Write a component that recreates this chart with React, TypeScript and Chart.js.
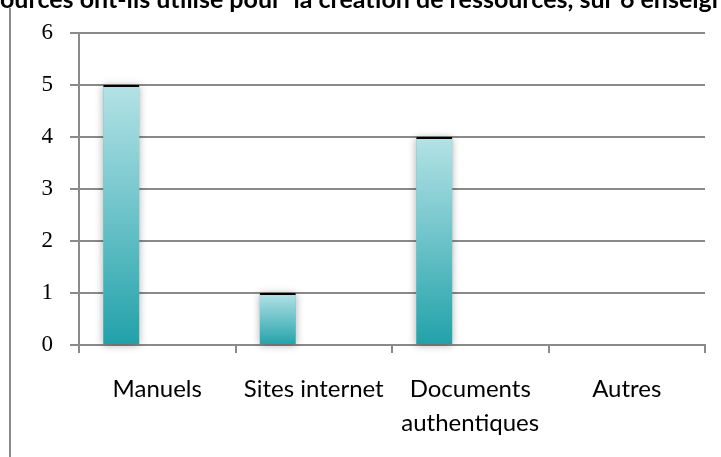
import React, { useEffect, useRef } from 'react';
import { Chart, registerables } from 'chart.js';
Chart.register(...registerables);

const categories: (string | string[])[] = ['Manuels', 'Sites internet', ['Documents', 'authentiques'], 'Autres'];
const values = [5, 1, 4, 0];
const emptySeriesA = [null, null, null, null];
const emptySeriesB = [null, null, null, null];
const yMin = 0;
const yMax = 6;
const titleText = 'Quelles sources ont-ils utilisé pour  la création de ressources, sur 6 enseignants';
const titleHiddenPrefix = 'Quelles s';

const GRID = '#8a8a8a';

const gradientFill = (ctx: any) => {
  const chart = ctx.chart;
  const { chartArea, scales } = chart;
  if (!chartArea || ctx.type !== 'data') return '#3aaab2';
  const v = ctx.raw ?? 0;
  const top = scales.y.getPixelForValue(v);
  const bottom = scales.y.getPixelForValue(0);
  if (bottom - top < 1) return '#3aaab2';
  const g = chart.ctx.createLinearGradient(0, top, 0, bottom);
  g.addColorStop(0, '#b4e2e6');
  g.addColorStop(0.5, '#6cc3c9');
  g.addColorStop(1, '#22a1a9');
  return g;
};

const framePlugin = {
  id: 'frame',
  beforeDatasetsDraw(chart: any) {
    const c = chart.ctx;
    const meta = chart.getDatasetMeta(0);
    c.save();
    c.shadowColor = 'rgba(0,0,0,0.32)';
    c.shadowBlur = 8;
    c.shadowOffsetX = 0;
    c.shadowOffsetY = 1;
    c.fillStyle = '#6cc3c9';
    meta.data.forEach((el: any, i: number) => {
      if (!(values[i] > 0)) return;
      const p = el.getProps(['x', 'y', 'base', 'width'], true);
      c.fillRect(p.x - p.width / 2, p.y, p.width, p.base - p.y);
    });
    c.restore();
  },
  afterDraw(chart: any) {
    const c = chart.ctx;
    c.save();
    c.strokeStyle = '#8a8a8a';
    c.lineWidth = 2;
    c.beginPath();
    c.moveTo(10, 8);
    c.lineTo(10, chart.height);
    c.stroke();
    c.font = 'bold 25px Lato';
    c.fillStyle = '#000';
    c.textBaseline = 'alphabetic';
    c.textAlign = 'left';
    const off = c.measureText(titleHiddenPrefix).width;
    c.fillText(titleText, -off, 8);
    c.restore();
  },
};

export default function App() {
  const ref = useRef<HTMLCanvasElement>(null);
  useEffect(() => {
    if (!ref.current) return;
    const chart = new Chart(ref.current, {
      type: 'bar',
      data: {
        labels: categories,
        datasets: [
          {
            data: values,
            backgroundColor: gradientFill,
            borderColor: '#000',
            borderWidth: (ctx: any) => (ctx.raw > 0 ? { top: 2, left: 0, right: 0, bottom: 0 } : 0),
            borderSkipped: false,
          },
          { data: emptySeriesA, backgroundColor: '#3aaab2' },
          { data: emptySeriesB, backgroundColor: '#3aaab2' },
        ],
      },
      options: {
        animation: false,
        responsive: false,
        maintainAspectRatio: false,
        layout: { padding: { top: 33, right: 16, left: 0, bottom: 0 } },
        datasets: { bar: { categoryPercentage: 0.69, barPercentage: 1 } },
        plugins: { legend: { display: false }, tooltip: { enabled: false }, title: { display: false } },
        scales: {
          x: {
            offset: true,
            grid: { display: true, drawOnChartArea: false, drawTicks: true, tickLength: 8, color: GRID, lineWidth: 2, offset: true },
            border: { display: true, color: GRID, width: 2 },
            ticks: { color: '#000', padding: 19, maxRotation: 0, autoSkip: false, font: { family: 'Lato', size: 24, lineHeight: 1.42 } },
            afterFit: (s: any) => { s.height = 112; },
          },
          y: {
            min: yMin,
            max: yMax,
            ticks: { stepSize: 1, color: '#000', padding: 17, font: { family: 'Liberation Serif', size: 23 } },
            grid: { color: GRID, lineWidth: 2, drawTicks: true, tickLength: 9 },
            border: { display: true, color: GRID, width: 2 },
            afterFit: (s: any) => { s.width = 79; },
          },
        },
      },
      plugins: [framePlugin],
    });
    return () => chart.destroy();
  }, []);
  return (
    <div style={{ position: 'fixed', left: 0, top: 0, width: 721, height: 457, background: '#fff' }}>
      <canvas ref={ref} width={721} height={457} style={{ width: 721, height: 457 }} />
    </div>
  );
}
